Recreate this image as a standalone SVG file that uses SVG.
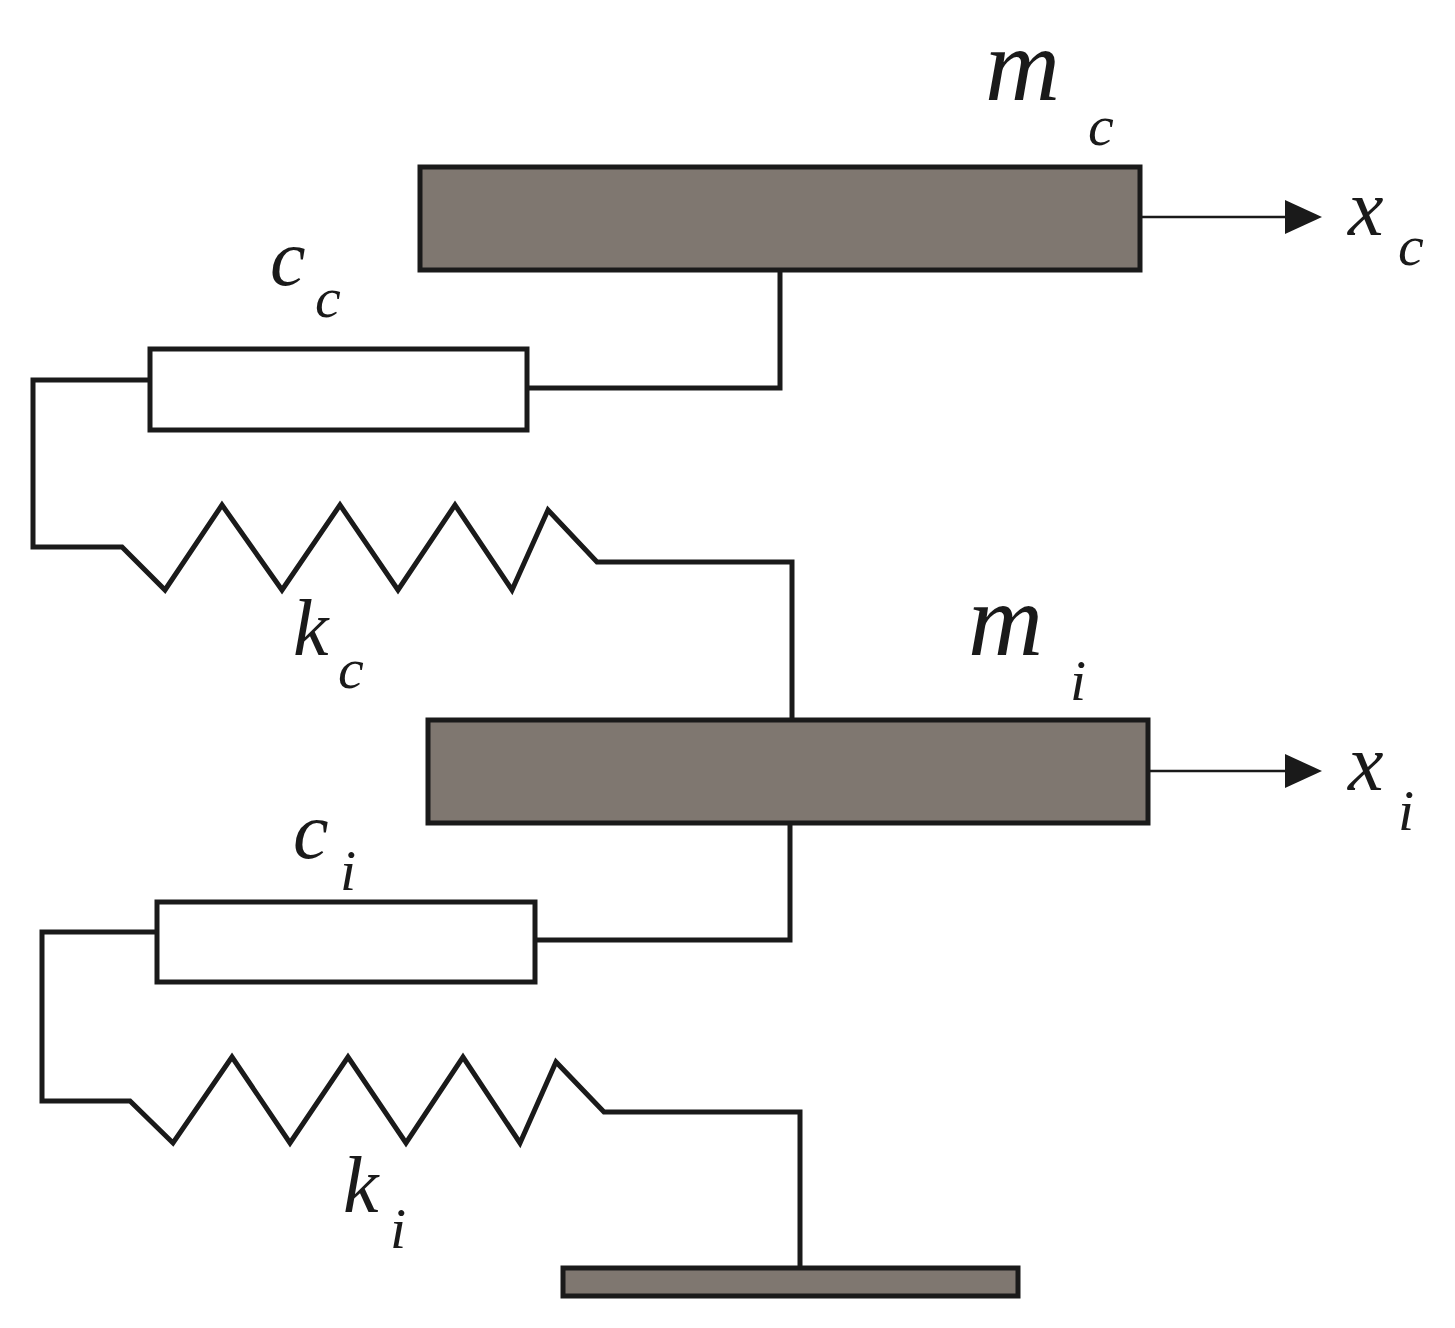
<svg xmlns="http://www.w3.org/2000/svg" width="1455" height="1328" viewBox="0 0 1455 1328">
<style>
.mass{fill:#7f7770;stroke:#1a1a1a;stroke-width:5}
.damp{fill:#fff;stroke:#1a1a1a;stroke-width:5}
.w{fill:none;stroke:#1a1a1a;stroke-width:5;stroke-linejoin:miter}
.a{fill:none;stroke:#1a1a1a;stroke-width:2.5}
.t{font-family:"Liberation Serif","Times New Roman",serif;font-style:italic;fill:#1a1a1a}
.big{font-size:104px}
.mid{font-size:80px}
.sub{font-size:58px}
</style>
<rect width="1455" height="1328" fill="#fff"/>
<g id="connectors">
<polyline class="w" points="780,270 780,388 527,388"/>
<polyline class="w" points="150,380 33,380 33,547 122,547 165,590 222,505 282,590 340,505 398,590 455,505 512,590 548,510 597,562 792,562 792,720"/>
<polyline class="w" points="790,823 790,940 535,940"/>
<polyline class="w" points="157,932 42,932 42,1101 130,1101 173,1143 232,1057 290,1143 348,1057 406,1143 463,1057 520,1143 556,1062 604,1112 800,1112 800,1268"/>
<line class="a" x1="1140" y1="217" x2="1290" y2="217"/>
<polygon points="1285,200 1322,217 1285,234" fill="#1a1a1a"/>
<line class="a" x1="1148" y1="771" x2="1290" y2="771"/>
<polygon points="1285,754 1322,771 1285,788" fill="#1a1a1a"/>
</g>
<g id="mc"><rect class="mass" x="420" y="167" width="720" height="103"/>
<text class="t big" x="985" y="100">m</text><text class="t sub" x="1088" y="145">c</text></g>
<g id="xc"><text class="t mid" x="1348" y="235">x</text><text class="t sub" x="1398" y="265">c</text></g>
<g id="cc"><rect class="damp" x="150" y="349" width="377" height="81"/>
<text class="t mid" x="270" y="285">c</text><text class="t sub" x="315" y="317">c</text></g>
<g id="kc"><text class="t mid" x="293" y="655">k</text><text class="t sub" x="338" y="688">c</text></g>
<g id="mi"><rect class="mass" x="428" y="720" width="720" height="103"/>
<text class="t big" x="968" y="655">m</text><text class="t sub" x="1070" y="700">i</text></g>
<g id="xi"><text class="t mid" x="1348" y="790">x</text><text class="t sub" x="1398" y="830">i</text></g>
<g id="ci"><rect class="damp" x="157" y="902" width="378" height="80"/>
<text class="t mid" x="293" y="858">c</text><text class="t sub" x="340" y="890">i</text></g>
<g id="ki"><text class="t mid" x="343" y="1212">k</text><text class="t sub" x="390" y="1248">i</text></g>
<g id="ground"><rect class="mass" x="563" y="1268" width="455" height="28"/></g>
</svg>
